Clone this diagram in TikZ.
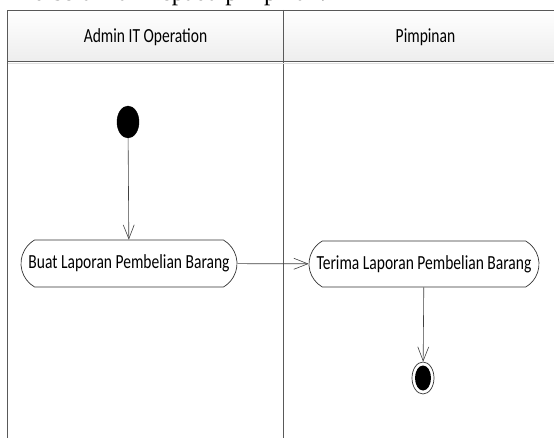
\documentclass[tikz,border=0pt]{standalone}
\usepackage{fontspec}
\usepackage{graphicx}
\setmainfont{Carlito}
\newfontfamily\bodyserif{Liberation Serif}
\usetikzlibrary{arrows.meta,shapes.misc,shapes.geometric}
% narrow label face used in the swimlane headers and activities
\newcommand{\umltext}[1]{{\fontsize{20}{20}\selectfont\scalebox{0.777}[1]{#1}}}
\tikzset{
  lane/.style={draw=gray!70!black, line width=0.9pt},
  flow/.style={draw=black!75, line width=0.6pt,
    -{Straight Barb[length=14pt,width=11pt,line width=0.6pt]}},
  action/.style={rounded rectangle, rounded rectangle arc length=120,
    draw=black!80, line width=0.7pt, inner sep=0pt, fill=white},
  startdot/.style={ellipse, fill=black, draw=black, minimum width=22pt,
    minimum height=32pt, inner sep=0pt},
  endring/.style={ellipse, draw=black!80, line width=0.7pt, fill=white,
    minimum width=22pt, minimum height=32pt, inner sep=0pt},
  enddot/.style={ellipse, fill=black, minimum width=16pt,
    minimum height=25pt, inner sep=0pt},
  lanetitle/.style={inner sep=0pt, anchor=center}
}
\begin{document}
\begin{tikzpicture}[x=1pt,y=-1pt]
  \useasboundingbox (0,0) rectangle (554,438);
  \clip (0,0) rectangle (554,438);

  % tail of the preceding paragraph line
  \node[anchor=base west, inner sep=0pt] (para) at (33.5,1)
    {\bodyserif\fontsize{25}{25}\selectfont diserahkan kepada pimpinan.};

  % swimlane frame
  \shade[top color=white, bottom color=gray!14] (7.5,10) rectangle (570,61);
  \draw[lane] (570,10) -- (7.5,10) -- (7.5,440);
  \draw[lane] (283,10) -- (283,440);
  \draw[lane] (7.5,61) -- (570,61);
  \draw[gray!25, line width=0.6pt] (8,63.2) -- (570,63.2);

  \node[lanetitle] (lane1) at (145.5,37) {\umltext{Admin IT Operation}};
  \node[lanetitle] (lane2) at (425.5,37) {\umltext{Pimpinan}};

  % activity flow
  \node[startdot] (start) at (128,122) {};
  \node[action, minimum width=216pt, minimum height=47pt] (buat) at (129,263.5)
    {\umltext{Buat Laporan Pembelian Barang}};
  \node[action, minimum width=230pt, minimum height=46pt] (terima) at (424,264)
    {\umltext{Terima Laporan Pembelian Barang}};
  \node[endring] (stop) at (423,378) {};
  \node[enddot] (stopdot) at (stop.center) {};

  \draw[flow] (start) -- (buat);
  \draw[flow] (buat) -- (terima);
  \draw[flow] (terima) -- (stop);
\end{tikzpicture}
\end{document}
